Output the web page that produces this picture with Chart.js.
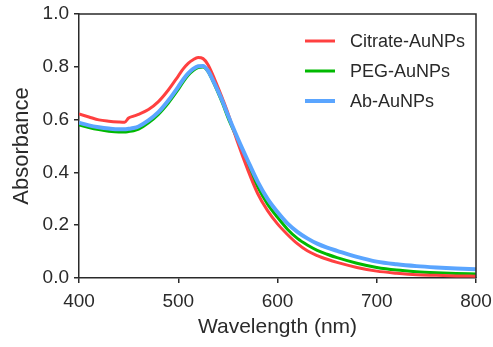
<!DOCTYPE html>
<html>
<head>
<meta charset="utf-8">
<script src="https://cdn.jsdelivr.net/npm/chart.js@4.4.1/dist/chart.umd.min.js"></script>
<style>
html,body{margin:0;padding:0;background:#fff;}
#wrap{width:493px;height:347px;}
</style>
</head>
<body>
<div id="wrap"><canvas id="c" width="493" height="347"></canvas></div>
<script>
const wavelengths = [400,410,420,430,440,446,450,455,460,470,480,490,500,505,510,515,520,525,530,535,540,545,550,560,570,580,590,600,610,620,630,640,650,660,680,700,720,740,760,780,800];
const citrate = [0.621,0.61,0.599,0.594,0.591,0.590,0.606,0.613,0.62,0.638,0.668,0.712,0.765,0.792,0.813,0.827,0.835,0.831,0.808,0.768,0.722,0.675,0.625,0.512,0.41,0.32,0.255,0.205,0.165,0.13,0.103,0.085,0.071,0.059,0.04,0.026,0.018,0.012,0.01,0.008,0.007];
const peg = [0.58,0.57,0.562,0.556,0.553,0.553,0.555,0.558,0.564,0.588,0.62,0.663,0.714,0.743,0.768,0.786,0.797,0.799,0.782,0.745,0.703,0.658,0.608,0.522,0.43,0.345,0.28,0.23,0.185,0.15,0.125,0.105,0.09,0.077,0.056,0.04,0.03,0.024,0.02,0.017,0.015];
const ab = [0.588,0.578,0.571,0.566,0.563,0.563,0.565,0.568,0.574,0.597,0.628,0.672,0.724,0.752,0.775,0.792,0.802,0.803,0.785,0.749,0.709,0.666,0.617,0.528,0.445,0.365,0.30,0.25,0.207,0.175,0.15,0.13,0.115,0.103,0.08,0.062,0.052,0.045,0.04,0.036,0.033];
const seriesLabels = ['Citrate-AuNPs','PEG-AuNPs','Ab-AuNPs'];
const xTicks = [400,500,600,700,800];
const yTicks = [0.0,0.2,0.4,0.6,0.8,1.0];

const colors = ['rgb(255,64,64)','rgb(0,185,0)','rgb(90,165,255)'];
const widths = [3,3,4];
const FONT = "'Liberation Sans', Arial, sans-serif";
const INK = '#2a2a2a';

function pts(vals){ return wavelengths.map((w,i)=>({x:w,y:vals[i]})); }

const frame = {
  id:'frame',
  afterDraw(chart){
    const {ctx, chartArea:a} = chart;
    ctx.save();
    ctx.strokeStyle = INK; ctx.lineWidth = 1.5;
    ctx.beginPath();
    ctx.moveTo(a.left, a.top); ctx.lineTo(a.right, a.top); ctx.lineTo(a.right, a.bottom);
    ctx.stroke();
    // legend
    const ds = chart.data.datasets;
    const x0 = a.left + 226, y0 = a.top + 27, dy = 30;
    ctx.font = "18px " + FONT;
    ctx.textBaseline = 'middle';
    ctx.fillStyle = INK;
    ds.forEach((d,i)=>{
      const y = y0 + i*dy;
      ctx.strokeStyle = d.borderColor; ctx.lineWidth = d.borderWidth;
      ctx.beginPath(); ctx.moveTo(x0, y); ctx.lineTo(x0+30, y); ctx.stroke();
      ctx.fillText(d.label, x0+45, y+1);
    });
    ctx.restore();
  }
};

new Chart(document.getElementById('c'), {
  type:'line',
  data:{
    datasets:[citrate,peg,ab].map((v,i)=>({
      label: seriesLabels[i],
      data: pts(v),
      borderColor: colors[i],
      backgroundColor: colors[i],
      borderWidth: widths[i],
      pointRadius:0,
      cubicInterpolationMode:'monotone',
      fill:false,
      order: i===2?0:(i===0?1:2)
    }))
  },
  options:{
    responsive:false,
    animation:false,
    layout:{padding:{top:14,right:17,left:0,bottom:0}},
    plugins:{legend:{display:false},tooltip:{enabled:false}},
    scales:{
      x:{
        type:'linear', min:400, max:800,
        afterBuildTicks(s){ s.ticks = xTicks.map(v=>({value:v})); },
        afterFit(s){ s.height = 69; s.paddingLeft = 0; s.paddingRight = 0; },
        grid:{display:true, drawOnChartArea:false, drawTicks:true, tickLength:5, color:INK, lineWidth:1.5},
        border:{display:true, color:INK, width:1.5},
        ticks:{color:INK, font:{family:FONT, size:19}, padding:7, maxRotation:0},
        title:{display:true, text:'Wavelength (nm)', color:INK, font:{family:FONT, size:21}, padding:{top:4,bottom:7}}
      },
      y:{
        type:'linear', min:0, max:1,
        afterBuildTicks(s){ s.ticks = yTicks.map(v=>({value:v})); },
        afterFit(s){ s.width = 79; s.paddingTop = 0; s.paddingBottom = 0; },
        grid:{display:true, drawOnChartArea:false, drawTicks:true, tickLength:5, color:INK, lineWidth:1.5},
        border:{display:true, color:INK, width:1.5},
        ticks:{color:INK, font:{family:FONT, size:19}, padding:5, callback:v=>Number(v).toFixed(1)},
        title:{display:true, text:'Absorbance', color:INK, font:{family:FONT, size:22}, padding:{top:9,bottom:4}}
      }
    }
  },
  plugins:[frame]
});
</script>
</body>
</html>
